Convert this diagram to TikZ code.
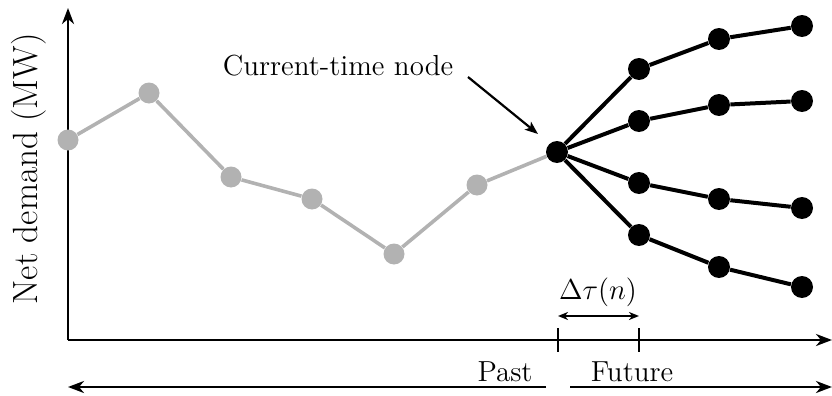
\documentclass[tikz,border=0pt]{standalone}
\usetikzlibrary{arrows.meta}
\begin{document}
\begin{tikzpicture}[x=0.5pt,y=-0.5pt,
  lbl/.style={font=\fontsize{14.5}{17}\selectfont, inner sep=0pt},
  pastdot/.style={circle, fill=black!30, minimum size=10.5pt, inner sep=0pt},
  futdot/.style={circle, fill=black, minimum size=11pt, inner sep=0pt},
  pastline/.style={draw=black!30, line width=1.8pt},
  futline/.style={draw=black, line width=2pt},
  axis/.style={line width=1.3pt, -{Stealth[length=8pt,width=6pt,inset=2.5pt]}},
  tick/.style={line width=1.3pt},
  tip/.style={line width=1.1pt, {Stealth[length=5pt,width=4pt,inset=1.5pt]}-{Stealth[length=5pt,width=4pt,inset=1.5pt]}}
]
\useasboundingbox (0,0) rectangle (832,396);

% axes
\coordinate (O) at (68,340);
\coordinate (Ytop) at (68,8);
\coordinate (Xend) at (832,340);
\draw[axis] (O) -- (Ytop);
\draw[axis] (O) -- (Xend);
\node[lbl, rotate=90, font=\fontsize{17.5}{20}\selectfont] (ylab) at (29,169) {Net demand (MW)};

% past samples
\node[pastdot] (p1) at (68,140) {};
\node[pastdot] (p2) at (149,93) {};
\node[pastdot] (p3) at (231,177) {};
\node[pastdot] (p4) at (312,199) {};
\node[pastdot] (p5) at (394,254) {};
\node[pastdot] (p6) at (477,185) {};
\node[futdot] (c) at (557,152) {};
\draw[pastline] (p1) -- (p2) -- (p3) -- (p4) -- (p5) -- (p6) -- (c);

% future scenarios
\node[futdot] (a1) at (639,69) {};
\node[futdot] (a2) at (719,39) {};
\node[futdot] (a3) at (802,26) {};
\node[futdot] (b1) at (639,121) {};
\node[futdot] (b2) at (719,105) {};
\node[futdot] (b3) at (802,101) {};
\node[futdot] (d1) at (639,183) {};
\node[futdot] (d2) at (719,199) {};
\node[futdot] (d3) at (802,208) {};
\node[futdot] (e1) at (639,235) {};
\node[futdot] (e2) at (719,267) {};
\node[futdot] (e3) at (802,287) {};
\draw[futline] (c) -- (a1) -- (a2) -- (a3);
\draw[futline] (c) -- (b1) -- (b2) -- (b3);
\draw[futline] (c) -- (d1) -- (d2) -- (d3);
\draw[futline] (c) -- (e1) -- (e2) -- (e3);

% current-time annotation
\node[lbl] (ct) at (338,66) {Current-time node};
\coordinate (ctfrom) at (468,77);
\coordinate (ctto) at (538,134);
\draw[line width=1.1pt, -{Stealth[length=6.5pt,width=5pt,inset=1.5pt]}] (ctfrom) -- (ctto);

% time step
\coordinate (t0a) at (558,328);
\coordinate (t0b) at (558,352);
\coordinate (t1a) at (639,328);
\coordinate (t1b) at (639,352);
\draw[tick] (t0a) -- (t0b);
\draw[tick] (t1a) -- (t1b);
\coordinate (dl) at (558,316);
\coordinate (dr) at (639,316);
\draw[tip] (dl) -- (dr);
\node[lbl] (dtau) at (598,292) {$\Delta\tau(n)$};

% past / future
\node[lbl] (past) at (505,372) {Past};
\node[lbl] (fut) at (632,372) {Future};
\coordinate (pl) at (546,387);
\coordinate (pr) at (68,387);
\coordinate (fl) at (570,387);
\coordinate (fr) at (832,387);
\draw[axis] (pl) -- (pr);
\draw[axis] (fl) -- (fr);
\end{tikzpicture}
\end{document}
